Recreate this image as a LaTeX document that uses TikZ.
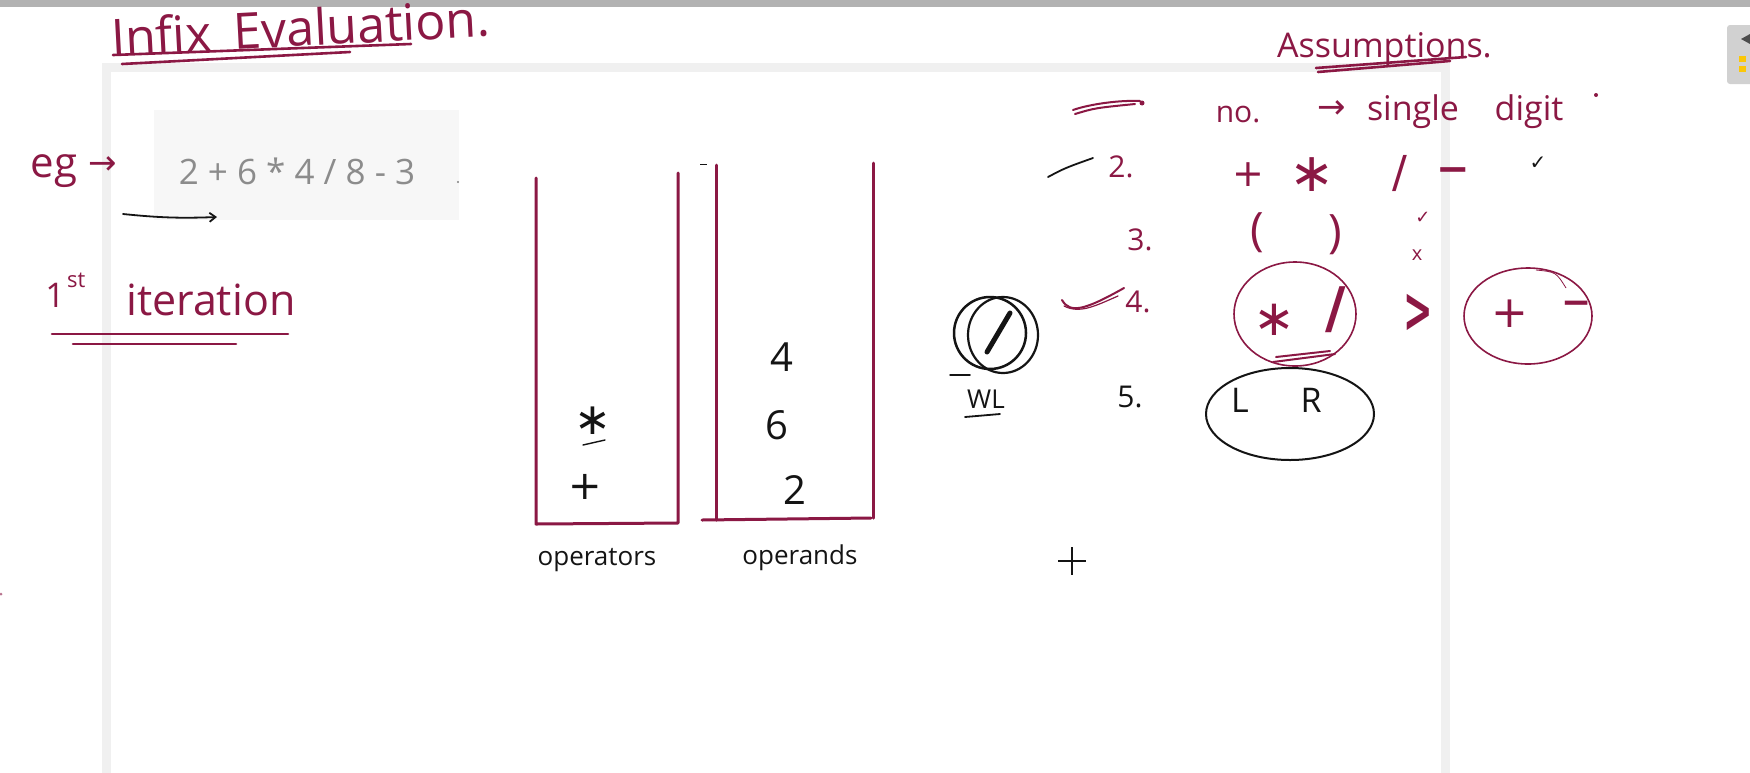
\documentclass[tikz,border=0pt]{standalone}
\usepackage{fontspec}
\setmainfont{Open Sans}
\newfontfamily\symf{DejaVu Sans}
\usetikzlibrary{arrows.meta}
\definecolor{crim}{RGB}{139,24,68}
\definecolor{ink}{RGB}{20,20,20}
\newcommand{\fs}[1]{\fontsize{#1}{#1}\selectfont}
\tikzset{
  hand/.style={inner sep=0pt, text=crim},
  blk/.style={inner sep=0pt, text=ink},
  wall/.style={draw=crim, line width=3pt, line cap=round, line join=round},
  pen/.style={draw=crim, line width=2pt, line cap=round, line join=round},
  bpen/.style={draw=ink, line width=2pt, line cap=round, line join=round},
}
\begin{document}
\begin{tikzpicture}[x=1pt,y=-1pt]
\useasboundingbox (0,0) rectangle (1750,772);
\fill[white] (0,0) rectangle (1750,772);
% top bar
\fill[black!30] (0,0) rectangle (1750,7);
% panel
\draw[line width=9pt, black!6] (106,67) rectangle (1445,800);
% toolbar widget
\fill[black!18, rounded corners=3pt] (1727,25) rectangle (1762,84);
\fill[black!70] (1741,39) -- (1750,34) -- (1750,44) -- cycle;
\fill[yellow!60!orange] (1739,56) rectangle (1746,62);
\fill[yellow!60!orange] (1739,66) rectangle (1746,72);
% stray dot
\fill[crim!60] (1,594) circle (1.5);

% title
\node[hand, font=\fs{50}, anchor=base west, rotate=3] (title) at (112,56) {Infix\hspace{22pt}Evaluation.};
\draw[pen, line width=2.6pt] (113,55) -- (411,44);
\draw[pen, line width=2.6pt] (122,64) -- (350,52);

% expression
\fill[black!3] (154,110) rectangle (459,220);
\node[inner sep=0pt, font=\fs{35}, text=black!45] (expr) at (297,171) {2 + 6 * 4 / 8 - 3};
\fill[black!50] (458,182) circle (1.2);
\node[hand, font=\fs{42}, anchor=base] (eg) at (54,177) {eg};
\node[hand, font=\symf\fs{34}] (egarrow) at (103,166) {→};
\coordinate (a1) at (123,214);
\coordinate (a2) at (217,217);
\draw[bpen, line width=1.8pt, -{Straight Barb[length=6pt,width=9pt]}] (a1) to[bend right=4] (a2);

% 1st iteration
\node[hand, font=\fs{34}, anchor=base] (one) at (55,307) {1};
\node[hand, font=\fs{22}, anchor=base west] (st) at (67,287) {st};
\node[hand, font=\fs{43}, anchor=base west] (iter) at (126,315) {iteration};
\draw[pen, line width=2.6pt] (52,334) -- (288,334);
\draw[pen, line width=2.6pt] (73,344) -- (236,344);

% stacks
\draw[wall] (536,178) -- (536,524) -- (678,523) -- (678,173);
\draw[wall] (716,165) -- (716,520);
\draw[wall] (702,520) -- (871,518);
\draw[wall] (873,163) -- (873,518);
\draw[draw=ink, line width=1pt] (700,164) -- (707,164);
\node[blk, font=\symf\fs{44}] (opstar) at (593,421) {∗};
\draw[bpen, line width=1.4pt] (583,445) -- (605,440);
\node[blk, font=\symf\fs{40}] (opplus) at (585,487) {+};
\node[blk, font=\fs{40}] (n4) at (782,357) {4};
\node[blk, font=\fs{40}] (n6) at (777,425) {6};
\node[blk, font=\fs{40}] (n2) at (795,490) {2};
\node[blk, font=\fs{26}] (lops) at (597,560) {operators};
\node[blk, font=\fs{26}] (lopd) at (800,558) {operands};

% WL circle
\draw[bpen, line width=2.5pt] (990,333) circle (36);
\draw[bpen, line width=2.2pt] (1003,335) ellipse (35 and 38);
\draw[bpen, line width=5pt] (1010,313) -- (987,352);
\draw[bpen, line width=1.5pt] (950,375) -- (970,375);
\node[blk, font=\fs{26}] (wl) at (986,399) {WL};
\draw[bpen, line width=1.8pt] (965,417) -- (1000,414);

% assumptions
\node[hand, font=\fs{34}, anchor=base west] (assum) at (1277,57) {Assumptions.};
\draw[pen, line width=2.6pt] (1316,68) -- (1466,57);
\draw[pen, line width=2.6pt] (1318,72) -- (1450,61);

% row 1
\draw[pen] (1073,110) .. controls (1090,104) and (1120,100) .. (1140,101);
\draw[pen] (1075,114) .. controls (1095,108) .. (1135,104);
\fill[crim] (1142,103) circle (2.5);
\node[hand, font=\fs{30}, anchor=base] (no) at (1238,122) {no.};
\node[hand, font=\symf\fs{34}] (r1arrow) at (1332,110) {→};
\node[hand, font=\fs{34}, anchor=base] (single) at (1413,120) {single};
\node[hand, font=\fs{34}, anchor=base] (digit) at (1529,120) {digit};
\fill[crim] (1596,95) circle (2);

% row 2
\draw[bpen, line width=1.8pt] (1048,177) .. controls (1065,168) .. (1093,158);
\node[hand, font=\fs{30}] (two) at (1121,167) {2.};
\node[hand, font=\symf\fs{38}] (r2plus) at (1248,175) {+};
\node[hand, font=\symf\fs{54}] (r2star) at (1312,175) {∗};
\node[hand, font=\symf\fs{44}] (r2slash) at (1400,173) {/};
\node[hand, font=\symf\bfseries\fs{40}] (r2minus) at (1453,175) {−};
\node[blk, font=\symf\fs{20}] (r2check) at (1538,163) {✓};

% row 3
\node[hand, font=\fs{30}] (three) at (1140,240) {3.};
\node[hand, font=\fs{46}] (lpar) at (1257,233) {(};
\node[hand, font=\fs{46}] (rpar) at (1335,235) {)};
\node[hand, font=\symf\fs{18}] (r3check) at (1423,218) {✓};
\node[hand, font=\fs{20}] (r3x) at (1417,255) {x};

% row 4
\draw[pen] (1062,300) .. controls (1070,314) and (1085,310) .. (1124,288);
\draw[pen, line width=1.2pt] (1064,306) .. controls (1080,314) and (1095,306) .. (1118,296);
\node[hand, font=\fs{30}] (four) at (1138,302) {4.};
\draw[pen, line width=1.6pt] (1295,314) ellipse (61 and 52);
\node[hand, font=\symf\fs{50}] (r4star) at (1274,320) {∗};
\node[hand, font=\symf\bfseries\fs{56}] (r4slash) at (1336,310) {/};
\draw[pen, line width=2pt] (1273,362) -- (1335,354);
\draw[pen, line width=2pt] (1276,357) -- (1330,351);
\node[hand, font=\symf\bfseries\fs{64}] (gt) at (1418,313) {\scalebox{0.55}[1]{>}};
\draw[pen, line width=1.6pt] (1528,316) ellipse (64 and 48);
\draw[crim, line width=0.8pt] (1536,270) .. controls (1556,272) .. (1566,288);
\node[hand, font=\symf\fs{44}] (r4plus) at (1510,314) {+};
\node[hand, font=\symf\bfseries\fs{36}] (r4minus) at (1577,308) {−};

% row 5
\node[blk, font=\fs{30}] (five) at (1130,397) {5.};
\draw[bpen, line width=2pt] (1290,414) ellipse (84 and 46);
\node[blk, font=\fs{34}] (L) at (1240,400) {L};
\node[blk, font=\fs{34}] (R) at (1311,400) {R};

% cursor cross
\draw[draw=ink, line width=1.4pt] (1058,561) -- (1086,561);
\draw[draw=ink, line width=1.4pt] (1072,547) -- (1072,575);
\end{tikzpicture}
\end{document}
